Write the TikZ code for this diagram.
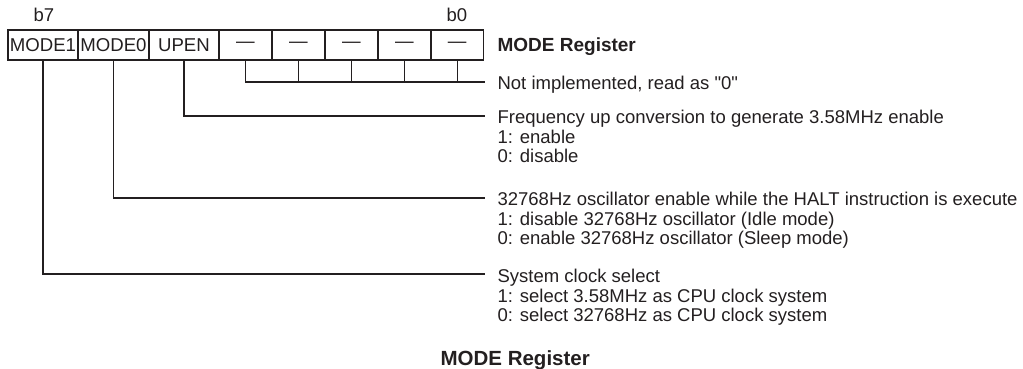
\documentclass[tikz,border=0pt]{standalone}
\usepackage{fontspec}
\setmainfont{Liberation Sans}
\newfontfamily\rawfont{Liberation Sans}[Ligatures=ResetAll]
\definecolor{ink}{RGB}{35,31,32}
\begin{document}
\begin{tikzpicture}[x=1pt,y=-1pt,line width=1.2pt,
  cell/.style={draw=ink,text=ink,minimum height=30pt,inner sep=0pt,font=\fontsize{18.6}{20}\selectfont},
  txt/.style={anchor=base west,inner sep=0pt,text=ink,font=\fontsize{18.5}{20}\selectfont},
  bold/.style={anchor=base west,inner sep=0pt,text=ink,font=\fontsize{19}{20}\selectfont\bfseries},
  lead/.style={draw=ink}]
\useasboundingbox (0,0) rectangle (1023,369);
% register cells
\node[cell,minimum width=70pt] (c7) at (43,45) {MODE1};
\node[cell,minimum width=71pt] (c6) at (113.5,45) {MODE0};
\node[cell,minimum width=70pt] (c5) at (184,45) {UPEN};
\node[cell,minimum width=53pt] (c4) at (245.5,45) {—};
\node[cell,minimum width=53pt] (c3) at (298.5,45) {—};
\node[cell,minimum width=53pt] (c2) at (351.5,45) {—};
\node[cell,minimum width=53pt] (c1) at (404.5,45) {—};
\node[cell,minimum width=52.5pt] (c0) at (457.25,45) {—};
\node[txt] (b7) at (33,22) {b7};
\node[txt] (b0) at (446,22) {b0};
\node[bold] (title) at (497,52) {MODE Register};
% leader end points
\coordinate (ni) at (485,82);
\coordinate (up) at (485,116);
\coordinate (m0) at (485,198);
\coordinate (m1) at (485,274);
% leaders
\draw[lead] (c4.south) |- (ni);
\draw[lead] (c3.south) -- (c3.south |- ni);
\draw[lead] (c2.south) -- (c2.south |- ni);
\draw[lead] (c1.south) -- (c1.south |- ni);
\draw[lead] (c0.south) -- (c0.south |- ni);
\draw[lead] (c5.south) |- (up);
\draw[lead] (c6.south) |- (m0);
\draw[lead] (c7.south) |- (m1);
% descriptions
\node[txt] (t0) at (497,89) {\rawfont Not implemented, read as "0"};
\node[txt] (t1) at (497,123.5) {Frequency up conversion to generate 3.58MHz enable};
\node[txt] (t1a) at (497,143) {1: enable};
\node[txt] (t1b) at (497,162.5) {0: disable};
\node[txt] (t2) at (497,205.5) {32768Hz oscillator enable while the HALT instruction is execute};
\node[txt] (t2a) at (497,225) {1: disable 32768Hz oscillator (Idle mode)};
\node[txt] (t2b) at (497,244.5) {0: enable 32768Hz oscillator (Sleep mode)};
\node[txt] (t3) at (497,282.5) {System clock select};
\node[txt] (t3a) at (497,302) {1: select 3.58MHz as CPU clock system};
\node[txt] (t3b) at (497,321.5) {0: select 32768Hz as CPU clock system};
\node[bold,font=\fontsize{20.5}{22}\selectfont\bfseries] (cap) at (440,365) {MODE Register};
\end{tikzpicture}
\end{document}
